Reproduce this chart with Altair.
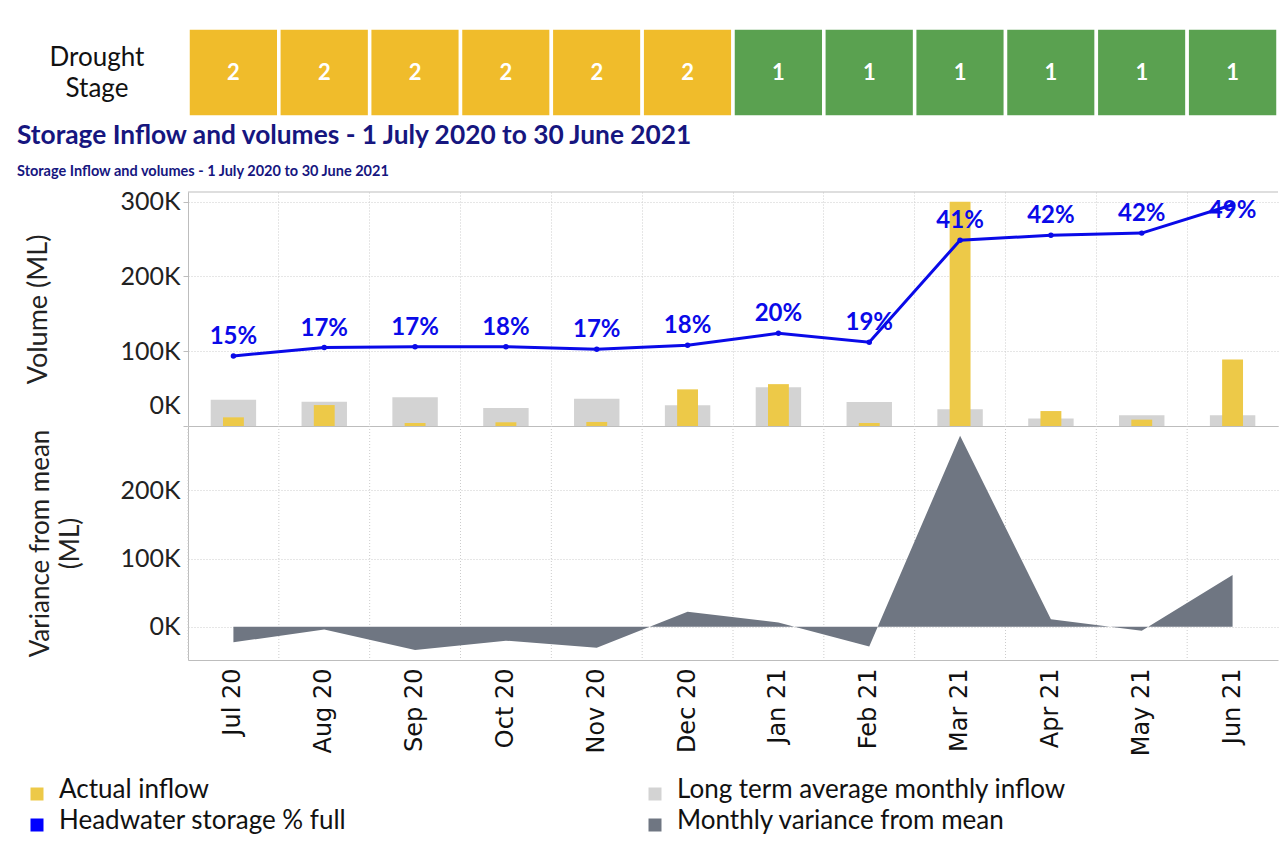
import altair as alt
import pandas as pd

# ---------------- data ----------------
months = ["Jul 20", "Aug 20", "Sep 20", "Oct 20", "Nov 20", "Dec 20",
          "Jan 21", "Feb 21", "Mar 21", "Apr 21", "May 21", "Jun 21"]
drought_stage = [2, 2, 2, 2, 2, 2, 1, 1, 1, 1, 1, 1]
actual_inflow = [11600, 28000, 4000, 5000, 5400, 49000, 56000, 4000, 300000, 20000, 8500, 89000]
lt_avg_inflow = [35000, 32600, 38400, 24000, 36600, 27700, 51800, 32000, 22300, 10000, 14300, 14300]
storage_volume = [93700, 105000, 106000, 106000, 102700, 108000, 124000, 112000, 248600, 255000, 258000, 296000]
storage_pct = [15, 17, 17, 18, 17, 18, 20, 19, 41, 42, 42, 49]
variance = [-22900, -3900, -34000, -20500, -31000, 22000, 6300, -29000, 280000, 11000, -5900, 76000]

title_text = "Storage Inflow and volumes - 1 July 2020 to 30 June 2021"
stage_label = "Drought\nStage"
legend_labels = ["Actual inflow", "Long term average monthly inflow",
                 "Headwater storage % full", "Monthly variance from mean"]
legend_colors = ["#EDC948", "#D3D3D3", "#0000FF", "#6F7682"]

# ---------------- tables ----------------
df = pd.DataFrame({
    "month": months,
    "stage": drought_stage,
    "actual": actual_inflow,
    "avg": lt_avg_inflow,
    "volume": storage_volume,
    "pct": storage_pct,
    "variance": variance,
})
leg = pd.DataFrame({"label": legend_labels, "color": legend_colors})
leg["col"] = [i % 2 for i in range(len(leg))]
leg["row"] = [i // 2 for i in range(len(leg))]

W = 1090
H_HEAD = 164     # drought row + titles
CELL_H = 89
H_TOP = 234
H_BOT = 234
H_LEG = 168
NAVY = "#16167F"
BLUE = "#0A0AE8"
GRID = "#cccccc"
DOMAIN = "#bdbdbd"
NOVIEW = alt.ViewBackground(stroke=None, strokeWidth=0, strokeOpacity=0, fill=None)

xscale = alt.Scale(domain=months, paddingInner=0, paddingOuter=0)

# ---------------- drought stage row + titles ----------------
dr_base = alt.Chart(df).encode(x=alt.X("month:N", scale=xscale, axis=None))
cells = dr_base.mark_rect(stroke="white", strokeWidth=3.5).encode(
    y=alt.value(0), y2=alt.value(CELL_H),
    color=alt.Color("stage:N", scale=alt.Scale(domain=[2, 1], range=["#F0BC2B", "#5AA150"]), legend=None),
)
cell_text = dr_base.mark_text(color="white", fontSize=22, fontWeight="bold", baseline="middle").encode(
    y=alt.value(CELL_H / 2), text="stage:N")
stage_txt = alt.Chart(pd.DataFrame({"t": [stage_label]})).mark_text(
    align="center", baseline="alphabetic", lineBreak="\n", lineHeight=31, fontSize=26, color="#111"
).encode(x=alt.value(-91), y=alt.value(38), text="t:N")
title_mark = alt.Chart(pd.DataFrame({"t": [title_text]})).mark_text(
    align="left", baseline="alphabetic", fontSize=26.3, fontWeight="bold", color=NAVY
).encode(x=alt.value(-171), y=alt.value(116), text="t:N")
subtitle_mark = alt.Chart(pd.DataFrame({"t": [title_text]})).mark_text(
    align="left", baseline="alphabetic", fontSize=14.5, fontWeight="bold", color=NAVY
).encode(x=alt.value(-171), y=alt.value(148), text="t:N")
head = alt.layer(cells, cell_text, stage_txt, title_mark, subtitle_mark).properties(
    width=W, height=H_HEAD, view=NOVIEW)

# ---------------- top panel: inflows and storage ----------------
x_top = alt.X("month:N", scale=xscale, axis=alt.Axis(
    title=None, labels=False, ticks=False, domain=True, domainColor=DOMAIN,
    grid=True, gridColor=GRID, gridDash=[1, 2], bandPosition=0, tickExtra=False))
yscale_top = alt.Scale(domain=[0, 313000], nice=False, zero=False)
y_axis_top = alt.Axis(
    values=[0, 100000, 200000, 300000], labelExpr="datum.value / 1000 + 'K'",
    labelFontSize=25, labelColor="#222", labelPadding=3, labelFlush=True, labelFlushOffset=-8,
    ticks=True, tickSize=5, tickColor=DOMAIN, domain=True, domainColor=DOMAIN,
    grid=True, gridColor=GRID, gridDash=[1, 2],
    title="Volume (ML)", titleFontSize=27, titleFontWeight="normal", titleColor="#222",
    titleAngle=270, titleX=-150, titleY=H_TOP / 2, titleAlign="center", titleBaseline="middle")

top_base = alt.Chart(df).encode(x=x_top)
gray_bars = top_base.mark_bar(color="#D3D3D3", opacity=1, width=alt.RelativeBandSize(0.5)).encode(
    y=alt.Y("avg:Q", scale=yscale_top, axis=y_axis_top))
yellow_bars = top_base.mark_bar(color="#EDC948", opacity=1, width=alt.RelativeBandSize(0.23)).encode(
    y=alt.Y("actual:Q", scale=yscale_top, axis=y_axis_top))
line = top_base.mark_line(color=BLUE, strokeWidth=3,
                          point=alt.OverlayMarkDef(color=BLUE, size=30, filled=True, opacity=1)).encode(
    y=alt.Y("volume:Q", scale=yscale_top, axis=y_axis_top))
labels = top_base.transform_calculate(
    label_y="min(datum.volume, 262000)", pct_label="datum.pct + '%'"
).mark_text(color=BLUE, fontSize=24, fontWeight="bold", baseline="alphabetic", dy=-12).encode(
    y=alt.Y("label_y:Q", scale=yscale_top, axis=y_axis_top), text="pct_label:N")
top_rule = alt.Chart(pd.DataFrame({"d": [0]})).mark_rule(color=DOMAIN, strokeWidth=1).encode(
    y=alt.value(0), x=alt.value(0), x2=alt.value(W))
top = alt.layer(gray_bars, yellow_bars, line, labels, top_rule).properties(
    width=W, height=H_TOP, view=NOVIEW)

# ---------------- bottom panel: variance ----------------
x_bot_axis = alt.Axis(
    title=None, labelAngle=270, labelFontSize=24, labelFont="DejaVu Sans", labelColor="#111",
    labelPadding=8, ticks=False, domain=True, domainColor=DOMAIN, grid=False, tickExtra=False)
yscale_bot = alt.Scale(domain=[-48800, 294300], nice=False, zero=False)
y_axis_bot = alt.Axis(
    values=[0, 100000, 200000], labelExpr="datum.value / 1000 + 'K'",
    labelFontSize=25, labelColor="#222", labelPadding=8,
    ticks=False, domain=True, domainColor=DOMAIN,
    grid=True, gridColor=GRID, gridDash=[1, 2],
    title=["Variance from mean", "(ML)"], titleFontSize=26, titleFontWeight="normal", titleColor="#222",
    titleAngle=270, titleX=-148, titleY=H_BOT / 2, titleAlign="center", titleBaseline="middle",
    titleLineHeight=30)
# vertical dotted separators at month boundaries (band starts)
vgrid = alt.Chart(df).mark_rule(color=GRID, strokeWidth=1, strokeDash=[1, 2]).encode(
    x=alt.X("month:N", scale=xscale, bandPosition=0, axis=x_bot_axis),
    y=alt.value(0), y2=alt.value(H_BOT))
area = alt.Chart(df).mark_area(color="#6F7682", opacity=1).encode(
    x=alt.X("month:N", scale=xscale, axis=x_bot_axis),
    y=alt.Y("variance:Q", scale=yscale_bot, axis=y_axis_bot), y2=alt.datum(0))
bottom = alt.layer(vgrid, area).properties(width=W, height=H_BOT, view=NOVIEW)

# ---------------- legend ----------------
lx = alt.X("col:O", scale=alt.Scale(type="point", domain=[0, 1], range=[-151, 467], padding=0), axis=None)
ly = alt.Y("row:O", scale=alt.Scale(type="point", domain=[0, 1], range=[134, 165], padding=0), axis=None)
leg_sq = alt.Chart(leg).mark_square(size=169, opacity=1).encode(
    x=lx, y=ly, color=alt.Color("color:N", scale=None))
leg_tx = alt.Chart(leg).mark_text(align="left", baseline="alphabetic", dx=22, dy=4, fontSize=26, color="#111").encode(
    x=lx, y=ly, text="label:N")
legend_panel = alt.layer(leg_sq, leg_tx).properties(width=W, height=H_LEG, view=NOVIEW)

chart = alt.vconcat(head, top, bottom, legend_panel, spacing=0, bounds="flush").resolve_scale(
    color="independent"
).properties(
    padding={"left": 9, "top": 18, "right": 0, "bottom": 0}
).configure_view(stroke=None, strokeWidth=0, strokeOpacity=0).configure(font="Lato", background="white")

chart.save("out.html", embed_options={"renderer": "svg", "actions": False})
